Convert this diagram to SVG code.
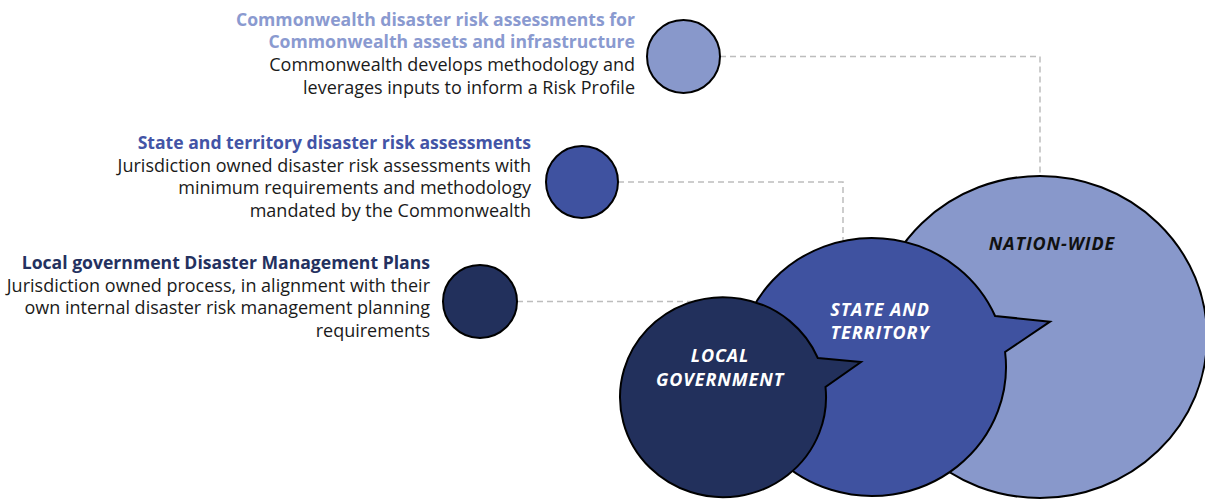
<svg xmlns="http://www.w3.org/2000/svg" width="1205" height="499" viewBox="0 0 1205 499">
  <style>
    .txt { font-family: "Open Sans", "Noto Sans", "Liberation Sans", sans-serif; font-size: 18px; fill: #1a1a1a; text-anchor: end; }
    .ttl { font-weight: bold; font-size: 17.6px; }
    .t1 { fill: #8a9ad0; }
    .t2 { fill: #4354a6; }
    .t3 { fill: #24315f; }
    .lbl { font-family: "Open Sans", "Noto Sans", "Liberation Sans", sans-serif; font-size: 18px; letter-spacing: 0.9px; font-weight: bold; font-style: italic; text-anchor: middle; }
    .dash { fill: none; stroke: #bdbdbd; stroke-width: 1.5; stroke-dasharray: 6 4; }
    .edge { stroke: #000; stroke-width: 2; }
    .light { fill: #8898cb; }
    .mid { fill: #3f52a0; }
    .dark { fill: #22305c; }
  </style>

  <!-- dashed leader lines from the small markers to the big circles -->
  <g id="connectors">
    <polyline class="dash" points="720,56.5 1040,56.5 1040,182"/>
    <polyline class="dash" points="618,182 843,182 843,248"/>
    <polyline class="dash" points="517,301.5 700,301.5"/>
  </g>

  <!-- left-hand descriptions with their marker dots -->
  <g id="commonwealth-item">
    <text class="txt" y="25.5"><tspan class="ttl t1" x="635">Commonwealth disaster risk assessments for</tspan><tspan class="ttl t1" x="635" dy="22.7">Commonwealth assets and infrastructure</tspan><tspan x="635" dy="22.7">Commonwealth develops methodology and</tspan><tspan x="635" dy="22.7">leverages inputs to inform a Risk Profile</tspan></text>
    <ellipse class="edge light" cx="683.5" cy="56.5" rx="36.5" ry="36.5"/>
  </g>

  <g id="state-item">
    <text class="txt" y="149"><tspan class="ttl t2" x="531">State and territory disaster risk assessments</tspan><tspan x="531" dy="22.7">Jurisdiction owned disaster risk assessments with</tspan><tspan x="531" dy="22.7">minimum requirements and methodology</tspan><tspan x="531" dy="22.7">mandated by the Commonwealth</tspan></text>
    <ellipse class="edge mid" cx="582" cy="182" rx="36" ry="36"/>
  </g>

  <g id="local-item">
    <text class="txt" y="269"><tspan class="ttl t3" x="430">Local government Disaster Management Plans</tspan><tspan x="430" dy="22.7">Jurisdiction owned process, in alignment with their</tspan><tspan x="430" dy="22.7">own internal disaster risk management planning</tspan><tspan x="430" dy="22.7">requirements</tspan></text>
    <ellipse class="edge dark" cx="480" cy="301.5" rx="37" ry="36.5"/>
  </g>

  <!-- nested speech-bubble circles -->
  <g id="nation-wide">
    <ellipse class="edge light" cx="1040" cy="337" rx="167" ry="161"/>
    <text class="lbl" x="1052" y="250" fill="#111">NATION-WIDE</text>
  </g>

  <g id="state-and-territory">
    <path class="edge mid" stroke-linejoin="miter" d="M995.1,316 L1050,321.7 L1005.1,352 A134 129 0 1 1 995.1,316 Z"/>
    <text class="lbl" y="315.5" fill="#fff"><tspan x="880">STATE AND</tspan><tspan x="880" dy="23.5">TERRITORY</tspan></text>
  </g>

  <g id="local-government">
    <path class="edge dark" stroke-linejoin="miter" d="M817.8,358 L861,362 L825.5,387 A103 100 0 1 1 817.8,358 Z"/>
    <text class="lbl" y="362" fill="#fff"><tspan x="720">LOCAL</tspan><tspan x="720" dy="23.5">GOVERNMENT</tspan></text>
  </g>
</svg>
